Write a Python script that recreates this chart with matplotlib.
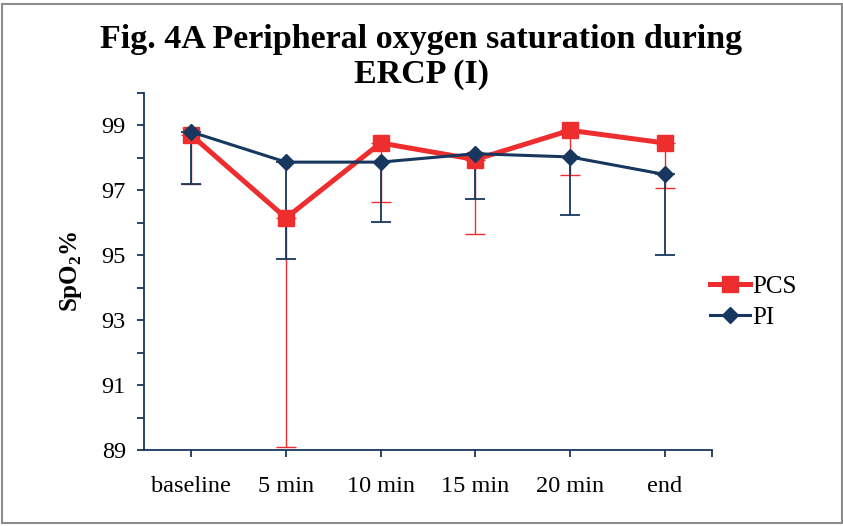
import matplotlib
matplotlib.use('Agg')
import matplotlib.pyplot as plt
from matplotlib.patches import Rectangle
import numpy as np

plt.rcParams['font.family'] = ['Liberation Serif', 'DejaVu Serif']
plt.rcParams['mathtext.fontset'] = 'custom'
plt.rcParams['mathtext.rm'] = 'Liberation Serif'
plt.rcParams['mathtext.bf'] = 'Liberation Serif:bold'

# time points and SpO2 means with lower SD
times = ['baseline', '5 min', '10 min', '15 min', '20 min', 'end']
pcs_mean = [98.70, 96.15, 98.46, 97.95, 98.85, 98.46]
pcs_lower = [97.20, 89.10, 96.64, 95.66, 97.48, 97.08]
pi_mean = [98.80, 97.87, 97.87, 98.13, 98.03, 97.49]
pi_lower = [97.20, 94.90, 96.04, 96.74, 96.24, 95.02]

RED = '#EE2E2E'
NAVY = '#17375E'

x = np.arange(len(times))
pcs_sd = np.array(pcs_mean) - np.array(pcs_lower)
pi_sd = np.array(pi_mean) - np.array(pi_lower)

fig = plt.figure(figsize=(8.43, 5.26), dpi=100)
ax = fig.add_axes([144 / 843, 1 - 450 / 526, (712 - 144) / 843, (450 - 93) / 526])

# minus-only error bars first, markers over them
ax.errorbar(x, pcs_mean, yerr=[pcs_sd, np.zeros_like(pcs_sd)], fmt='none',
            ecolor=RED, elinewidth=1.0, capsize=7, capthick=1.0, zorder=2)
ax.errorbar(x, pi_mean, yerr=[pi_sd, np.zeros_like(pi_sd)], fmt='none',
            ecolor=NAVY, elinewidth=1.3, capsize=7, capthick=1.3, zorder=2.1)
ax.plot(x, pcs_mean, color=RED, lw=3.6, marker='s', ms=11.5,
        mfc=RED, mec=RED, label='PCS', zorder=3)
ax.plot(x, pi_mean, color=NAVY, lw=2.2, marker='D', ms=8,
        mfc=NAVY, mec=NAVY, label='PI', zorder=4)

ax.set_xlim(-0.5, 5.5)
ax.set_ylim(89, 100)
ax.set_xticks(x)
ax.set_xticklabels(times)
ax.set_xticks([5.5], minor=True)
ax.set_yticks(np.arange(89, 100, 2))
ax.set_yticks(np.arange(90, 101, 2), minor=True)

for side in ['top', 'right']:
    ax.spines[side].set_visible(False)
for side in ['left', 'bottom']:
    ax.spines[side].set_color(NAVY)
    ax.spines[side].set_linewidth(1.3)
ax.tick_params(axis='both', which='both', direction='out', color=NAVY,
               width=1.3, length=5, labelsize=17.5, colors='black')
ax.tick_params(axis='both', which='both', color=NAVY)
ax.tick_params(axis='x', pad=14)
ax.tick_params(axis='y', pad=8)

ax.set_ylabel(r'SpO$_\mathbf{2}$%', fontsize=18, fontweight='bold', labelpad=13)

fig.text(0.5, 1 - 24 / 526, 'Fig. 4A Peripheral oxygen saturation during\nERCP (I)',
         ha='center', va='top', fontsize=24.5, fontweight='bold', linespacing=1.15)

ax.legend(loc='center left', bbox_to_anchor=(697 / 843, 1 - 302 / 526),
          bbox_transform=fig.transFigure, frameon=False, fontsize=18,
          handlelength=1.6, handletextpad=0.1, labelspacing=0.35,
          borderpad=0, numpoints=1)

# chart border
fig.patches.append(Rectangle((1.5 / 843, 3.5 / 526), 840 / 843, 519 / 526,
                             transform=fig.transFigure, fill=False,
                             edgecolor='#8C8C8C', linewidth=1.5))

fig.savefig('out.png', dpi=100)
